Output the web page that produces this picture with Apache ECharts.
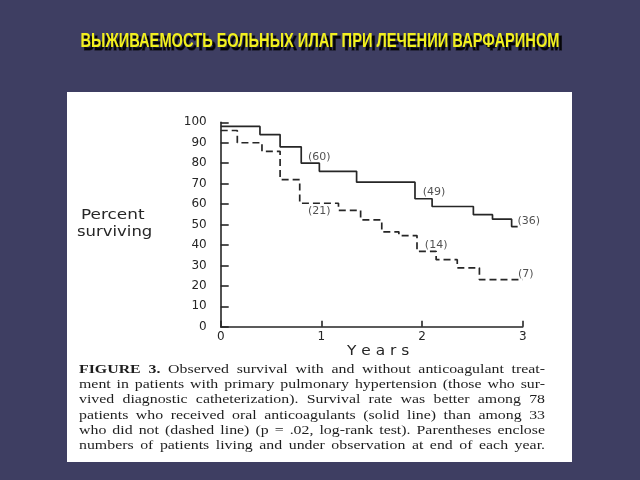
<!DOCTYPE html>
<html>
<head>
<meta charset="utf-8">
<style>
html,body{margin:0;padding:0;background:#3e3e62;}
#chart{width:640px;height:480px;}
</style>
<script src="https://cdn.jsdelivr.net/npm/echarts@6/dist/echarts.min.js"></script>
</head>
<body>
<div id="chart"></div>
<script>
// ---- Data ----
var titleText = 'ВЫЖИВАЕМОСТЬ БОЛЬНЫХ ИЛАГ ПРИ ЛЕЧЕНИИ ВАРФАРИНОМ';
var yTicks = [0, 10, 20, 30, 40, 50, 60, 70, 80, 90, 100];
var xTicks = [0, 1, 2, 3];
// solid line: oral anticoagulants
var solidYears  = [0, 0.39, 0.59, 0.80, 0.98, 1.35, 1.93, 2.10, 2.51, 2.70, 2.89, 2.95];
var solidValues = [98, 94, 88, 80, 76, 70.7, 62.6, 58.8, 54.8, 52.6, 49, 49];
// dashed line: no anticoagulants
var dashedYears  = [0, 0.165, 0.41, 0.59, 0.785, 1.17, 1.39, 1.60, 1.77, 1.95, 2.14, 2.35, 2.57, 3.0];
var dashedValues = [96, 90, 85.8, 72, 60.4, 56.9, 52.3, 46.4, 44.6, 36.9, 32.8, 28.8, 23, 23];
// numbers at risk annotations
var riskLabels = ['(60)', '(21)', '(49)', '(36)', '(14)', '(7)'];
var riskYears  = [0.98, 0.98, 2.12, 3.06, 2.14, 3.03];
var riskValues = [83, 56.4, 65.8, 51.6, 40, 25.7];
var captionLines = [
  'FIGURE 3. Observed survival with and without anticoagulant treat-',
  'ment in patients with primary pulmonary hypertension (those who sur-',
  'vived diagnostic catheterization). Survival rate was better among 78',
  'patients who received oral anticoagulants (solid line) than among 33',
  'who did not (dashed line) (p = .02, log-rank test). Parentheses enclose',
  'numbers of patients living and under observation at end of each year.'
];

// ---- Build ----
function pairs(xs, ys) { return xs.map(function (x, i) { return [x, ys[i]]; }); }
var sansFont = '"DejaVu Sans", sans-serif';
var serifFont = '"Liberation Serif", "DejaVu Serif", serif';
var inkColor = '#262626';
var ctx = document.createElement('canvas').getContext('2d');

// Title (horizontally condensed bold sans) with drop shadow
var titleFont = 'bold 20px "Liberation Sans", Arial, sans-serif';
ctx.font = titleFont;
var titleScale = 479 / ctx.measureText(titleText).width;
var titleGraphics = [
  { type: 'text', x: 323, y: 44.5, scaleX: titleScale, z: 19,
    style: { text: titleText, font: titleFont, fill: 'rgba(0,0,0,0.9)', align: 'center', verticalAlign: 'middle',
      stroke: 'rgba(0,0,0,0.5)', lineWidth: 1.5 } },
  { type: 'text', x: 320, y: 41.5, scaleX: titleScale, z: 20,
    style: { text: titleText, font: titleFont, fill: '#f2f01e', align: 'center', verticalAlign: 'middle' } }
];

// Caption: justify each line by measuring words (scan is horizontally stretched)
var captionGraphics = [];
(function () {
  var left = 79, right = 545, top0 = 369.5, lh = 15.2, fs = 13;
  captionLines.forEach(function (line, li) {
    var words = line.split(' ');
    var widths = words.map(function (w, wi) {
      var bold = (li === 0 && wi < 2);
      ctx.font = (bold ? 'bold ' : '') + fs + 'px ' + serifFont;
      return ctx.measureText(w).width;
    });
    ctx.font = fs + 'px ' + serifFont;
    var spaceW = ctx.measureText(' ').width;
    var total = widths.reduce(function (a, b) { return a + b; }, 0);
    var natural = total + spaceW * (words.length - 1);
    var sx = Math.min(1.22, (right - left) / natural);
    var gap = (right - left - total * sx) / (words.length - 1);
    var x = left;
    words.forEach(function (w, wi) {
      var bold = (li === 0 && wi < 2);
      captionGraphics.push({
        type: 'text', x: x, y: top0 + li * lh, scaleX: sx, z: 10,
        style: { text: w, fill: '#1e1e1e', font: (bold ? 'bold ' : '') + fs + 'px ' + serifFont, verticalAlign: 'middle' }
      });
      x += widths[wi] * sx + gap;
    });
  });
})();

var chart = echarts.init(document.getElementById('chart'), null, { renderer: 'canvas' });
var option = {
  backgroundColor: '#3e3e62',
  animation: false,
  graphic: titleGraphics.concat([
    { type: 'rect', shape: { x: 67, y: 92, width: 505, height: 370 }, style: { fill: '#ffffff' }, z: -10 },
    { type: 'text', x: 81, y: 215, scaleX: 1.25, z: 10, style: { text: 'Percent', fill: inkColor, font: '13.5px ' + sansFont, verticalAlign: 'middle' } },
    { type: 'text', x: 77, y: 232, scaleX: 1.22, z: 10, style: { text: 'surviving', fill: inkColor, font: '13.5px ' + sansFont, verticalAlign: 'middle' } },
    { type: 'text', x: 347, y: 351, scaleX: 1.1, z: 10, style: { text: 'Y e a r s', fill: inkColor, font: '14px ' + sansFont, verticalAlign: 'middle' } }
  ]).concat(captionGraphics),
  grid: { left: 220.7, right: 117.3, top: 122.3, bottom: 153.3, containLabel: false },
  xAxis: {
    type: 'value', min: 0, max: 3, interval: 1,
    axisLine: { show: true, lineStyle: { color: inkColor, width: 1.6 } },
    axisTick: { show: true, inside: true, length: 6, lineStyle: { color: inkColor, width: 1.6 } },
    axisLabel: { color: inkColor, fontFamily: sansFont, fontSize: 12, margin: 4,
      formatter: function (v) { return xTicks.indexOf(v) >= 0 ? String(v) : ''; } },
    splitLine: { show: false }
  },
  yAxis: {
    type: 'value', min: 0, max: 100, interval: 10,
    axisLine: { show: true, lineStyle: { color: inkColor, width: 1.6 } },
    axisTick: { show: true, inside: true, length: 8, lineStyle: { color: inkColor, width: 1.6 } },
    axisLabel: { color: inkColor, fontFamily: sansFont, fontSize: 12, margin: 14,
      formatter: function (v) { return yTicks.indexOf(v) >= 0 ? String(v) : ''; } },
    splitLine: { show: false }
  },
  series: [
    { type: 'line', step: 'end', symbol: 'none', data: pairs(solidYears, solidValues),
      lineStyle: { color: inkColor, width: 1.7, type: 'solid' } },
    { type: 'line', step: 'end', symbol: 'none', data: pairs(dashedYears, dashedValues),
      lineStyle: { color: inkColor, width: 1.7, type: [7, 4] } },
    { type: 'scatter', symbolSize: 0, silent: true, clip: false,
      data: riskYears.map(function (x, i) { return { value: [x, riskValues[i]], name: riskLabels[i] }; }),
      label: { show: true, position: 'inside', formatter: function (p) { return p.name; },
        color: inkColor, fontFamily: sansFont, fontSize: 11 } }
  ]
};
chart.setOption(option);
</script>
</body>
</html>
